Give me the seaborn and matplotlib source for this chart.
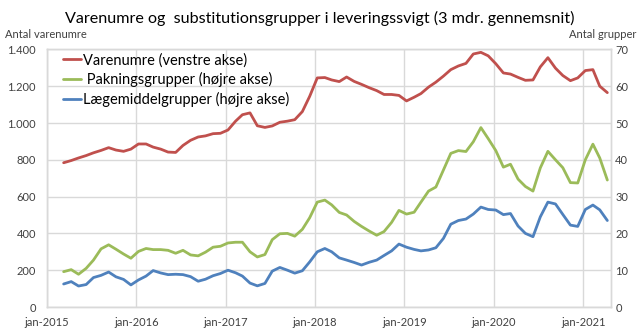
import matplotlib
matplotlib.use('Agg')
import matplotlib.pyplot as plt
import matplotlib.dates as mdates
import matplotlib.ticker as mticker
import seaborn as sns
import pandas as pd

# ---------------- data (monthly readings, 3-month moving average) ----------------
start_month = '2015-03-01'
n_months = 74

varenumre = [784, 796, 810, 823, 838, 851, 866, 853, 846, 858,
             886, 886, 869, 858, 842, 840, 878, 906, 924, 930, 942, 944,
             962, 1010, 1045, 1055, 985, 976, 984, 1004, 1010, 1018, 1062, 1145,
             1245, 1247, 1234, 1225, 1250, 1226, 1210, 1192, 1176, 1155, 1155, 1150,
             1120, 1140, 1160, 1195, 1222, 1255, 1290, 1310, 1324, 1375, 1384, 1365,
             1322, 1272, 1266, 1248, 1232, 1234, 1305, 1355, 1298, 1258, 1230, 1245,
             1285, 1290, 1200, 1165]

pakningsgrupper = [9.6, 10.15, 8.9, 10.5, 12.75, 15.8, 16.9, 15.7, 14.4, 13.25,
                   15.1, 15.9, 15.6, 15.6, 15.4, 14.6, 15.4, 14.15, 13.9, 14.9, 16.25, 16.5,
                   17.4, 17.6, 17.6, 15.0, 13.6, 14.25, 18.3, 19.9, 20.0, 19.25, 21.1, 24.25,
                   28.5, 29.05, 27.75, 25.7, 25.0, 23.25, 21.9, 20.65, 19.5, 20.5, 23.0, 26.25,
                   25.25, 25.75, 28.5, 31.5, 32.6, 37.25, 41.75, 42.5, 42.25, 44.9, 48.75, 45.75,
                   42.5, 38.0, 38.8, 34.75, 32.75, 31.5, 37.8, 42.3, 40.0, 37.85, 33.8, 33.7,
                   40.0, 44.25, 40.5, 34.5]

laegemiddelgrupper = [6.25, 6.9, 5.7, 6.1, 8.0, 8.6, 9.5, 8.2, 7.5, 6.0,
                      7.35, 8.4, 9.9, 9.25, 8.8, 8.9, 8.8, 8.25, 7.0, 7.55, 8.5, 9.1,
                      10.0, 9.3, 8.4, 6.5, 5.75, 6.4, 9.75, 10.75, 10.0, 9.2, 9.85, 12.25,
                      15.0, 15.9, 15.0, 13.35, 12.75, 12.1, 11.4, 12.15, 12.75, 14.0, 15.25, 17.1,
                      16.25, 15.65, 15.25, 15.5, 16.1, 18.65, 22.5, 23.5, 23.9, 25.25, 27.15, 26.5,
                      26.35, 25.1, 25.4, 22.0, 20.0, 19.1, 24.5, 28.5, 28.0, 25.15, 22.25, 21.9,
                      26.5, 27.7, 26.4, 23.5]

labels = ['Varenumre (venstre akse)', ' Pakningsgrupper (højre akse)', 'Lægemiddelgrupper (højre akse)']
title = 'Varenumre og  substitutionsgrupper i leveringssvigt (3 mdr. gennemsnit)'
left_label = 'Antal varenumre'
right_label = 'Antal grupper'

dates = pd.date_range(start=start_month, periods=n_months, freq='MS') + pd.Timedelta(days=9)
df = pd.DataFrame({'dato': dates,
                   'varenumre': varenumre,
                   'pakning': pakningsgrupper,
                   'laegemiddel': laegemiddelgrupper})

RED = '#C0504D'
GREEN = '#9BBB59'
BLUE = '#4F81BD'
GRID = '#D9D9D9'
TXT = '#404040'

sns.set_theme(style='white')
plt.rcParams['font.family'] = ['Lato', 'DejaVu Sans']

fig = plt.figure(figsize=(6.4, 3.31), dpi=100)
ax = fig.add_axes([47 / 640, 1 - 307 / 331, (611 - 47) / 640, (307 - 49.4) / 331])
ax2 = ax.twinx()

sns.lineplot(data=df, x='dato', y='varenumre', ax=ax, color=RED, linewidth=2.0, label=labels[0])
sns.lineplot(data=df, x='dato', y='pakning', ax=ax2, color=GREEN, linewidth=2.0, label=labels[1])
sns.lineplot(data=df, x='dato', y='laegemiddel', ax=ax2, color=BLUE, linewidth=2.0, label=labels[2])

h1, l1 = ax.get_legend_handles_labels()
h2, l2 = ax2.get_legend_handles_labels()
for a in (ax, ax2):
    if a.get_legend() is not None:
        a.get_legend().remove()

ax.set_xlim(pd.Timestamp('2015-01-01'), pd.Timestamp('2021-04-25'))
ax.set_ylim(0, 1400)
ax2.set_ylim(0, 70)
ax.set_yticks(range(0, 1401, 200))
ax2.set_yticks(range(0, 71, 10))
ax.yaxis.set_major_formatter(mticker.FuncFormatter(lambda v, p: f'{int(v):,}'.replace(',', '.')))
ax.xaxis.set_major_locator(mdates.YearLocator())
ax.xaxis.set_major_formatter(mdates.DateFormatter('jan-%Y'))

ax.grid(True, color=GRID, linewidth=1.0)
ax2.grid(False)
ax.set_axisbelow(True)
for a in (ax, ax2):
    for s in a.spines.values():
        s.set_color(GRID)
        s.set_linewidth(1.0)
    a.set_xlabel('')
    a.set_ylabel('')

ax.tick_params(axis='y', labelsize=8, colors=TXT, length=0, pad=8)
ax.tick_params(axis='x', labelsize=8, colors=TXT, length=0, pad=7)
ax2.tick_params(axis='y', labelsize=8, colors=TXT, length=0, pad=3)

leg = ax2.legend(h1 + h2, l1 + l2, loc='upper left', bbox_to_anchor=(0.012, 1.02),
                 frameon=False, fontsize=10.5, handlelength=1.25, handletextpad=0.15,
                 labelspacing=0.33, borderaxespad=0.2)
for t in leg.get_texts():
    t.set_color('#000000')

fig.text(0.5, 1 - 18 / 331, title, ha='center', va='center', fontsize=11.6, color='#000000')
fig.text(5 / 640, 1 - 34 / 331, left_label, ha='left', va='center', fontsize=8, color=TXT)
fig.text(636 / 640, 1 - 34 / 331, right_label, ha='right', va='center', fontsize=8, color=TXT)

fig.savefig('out.png', dpi=100)
